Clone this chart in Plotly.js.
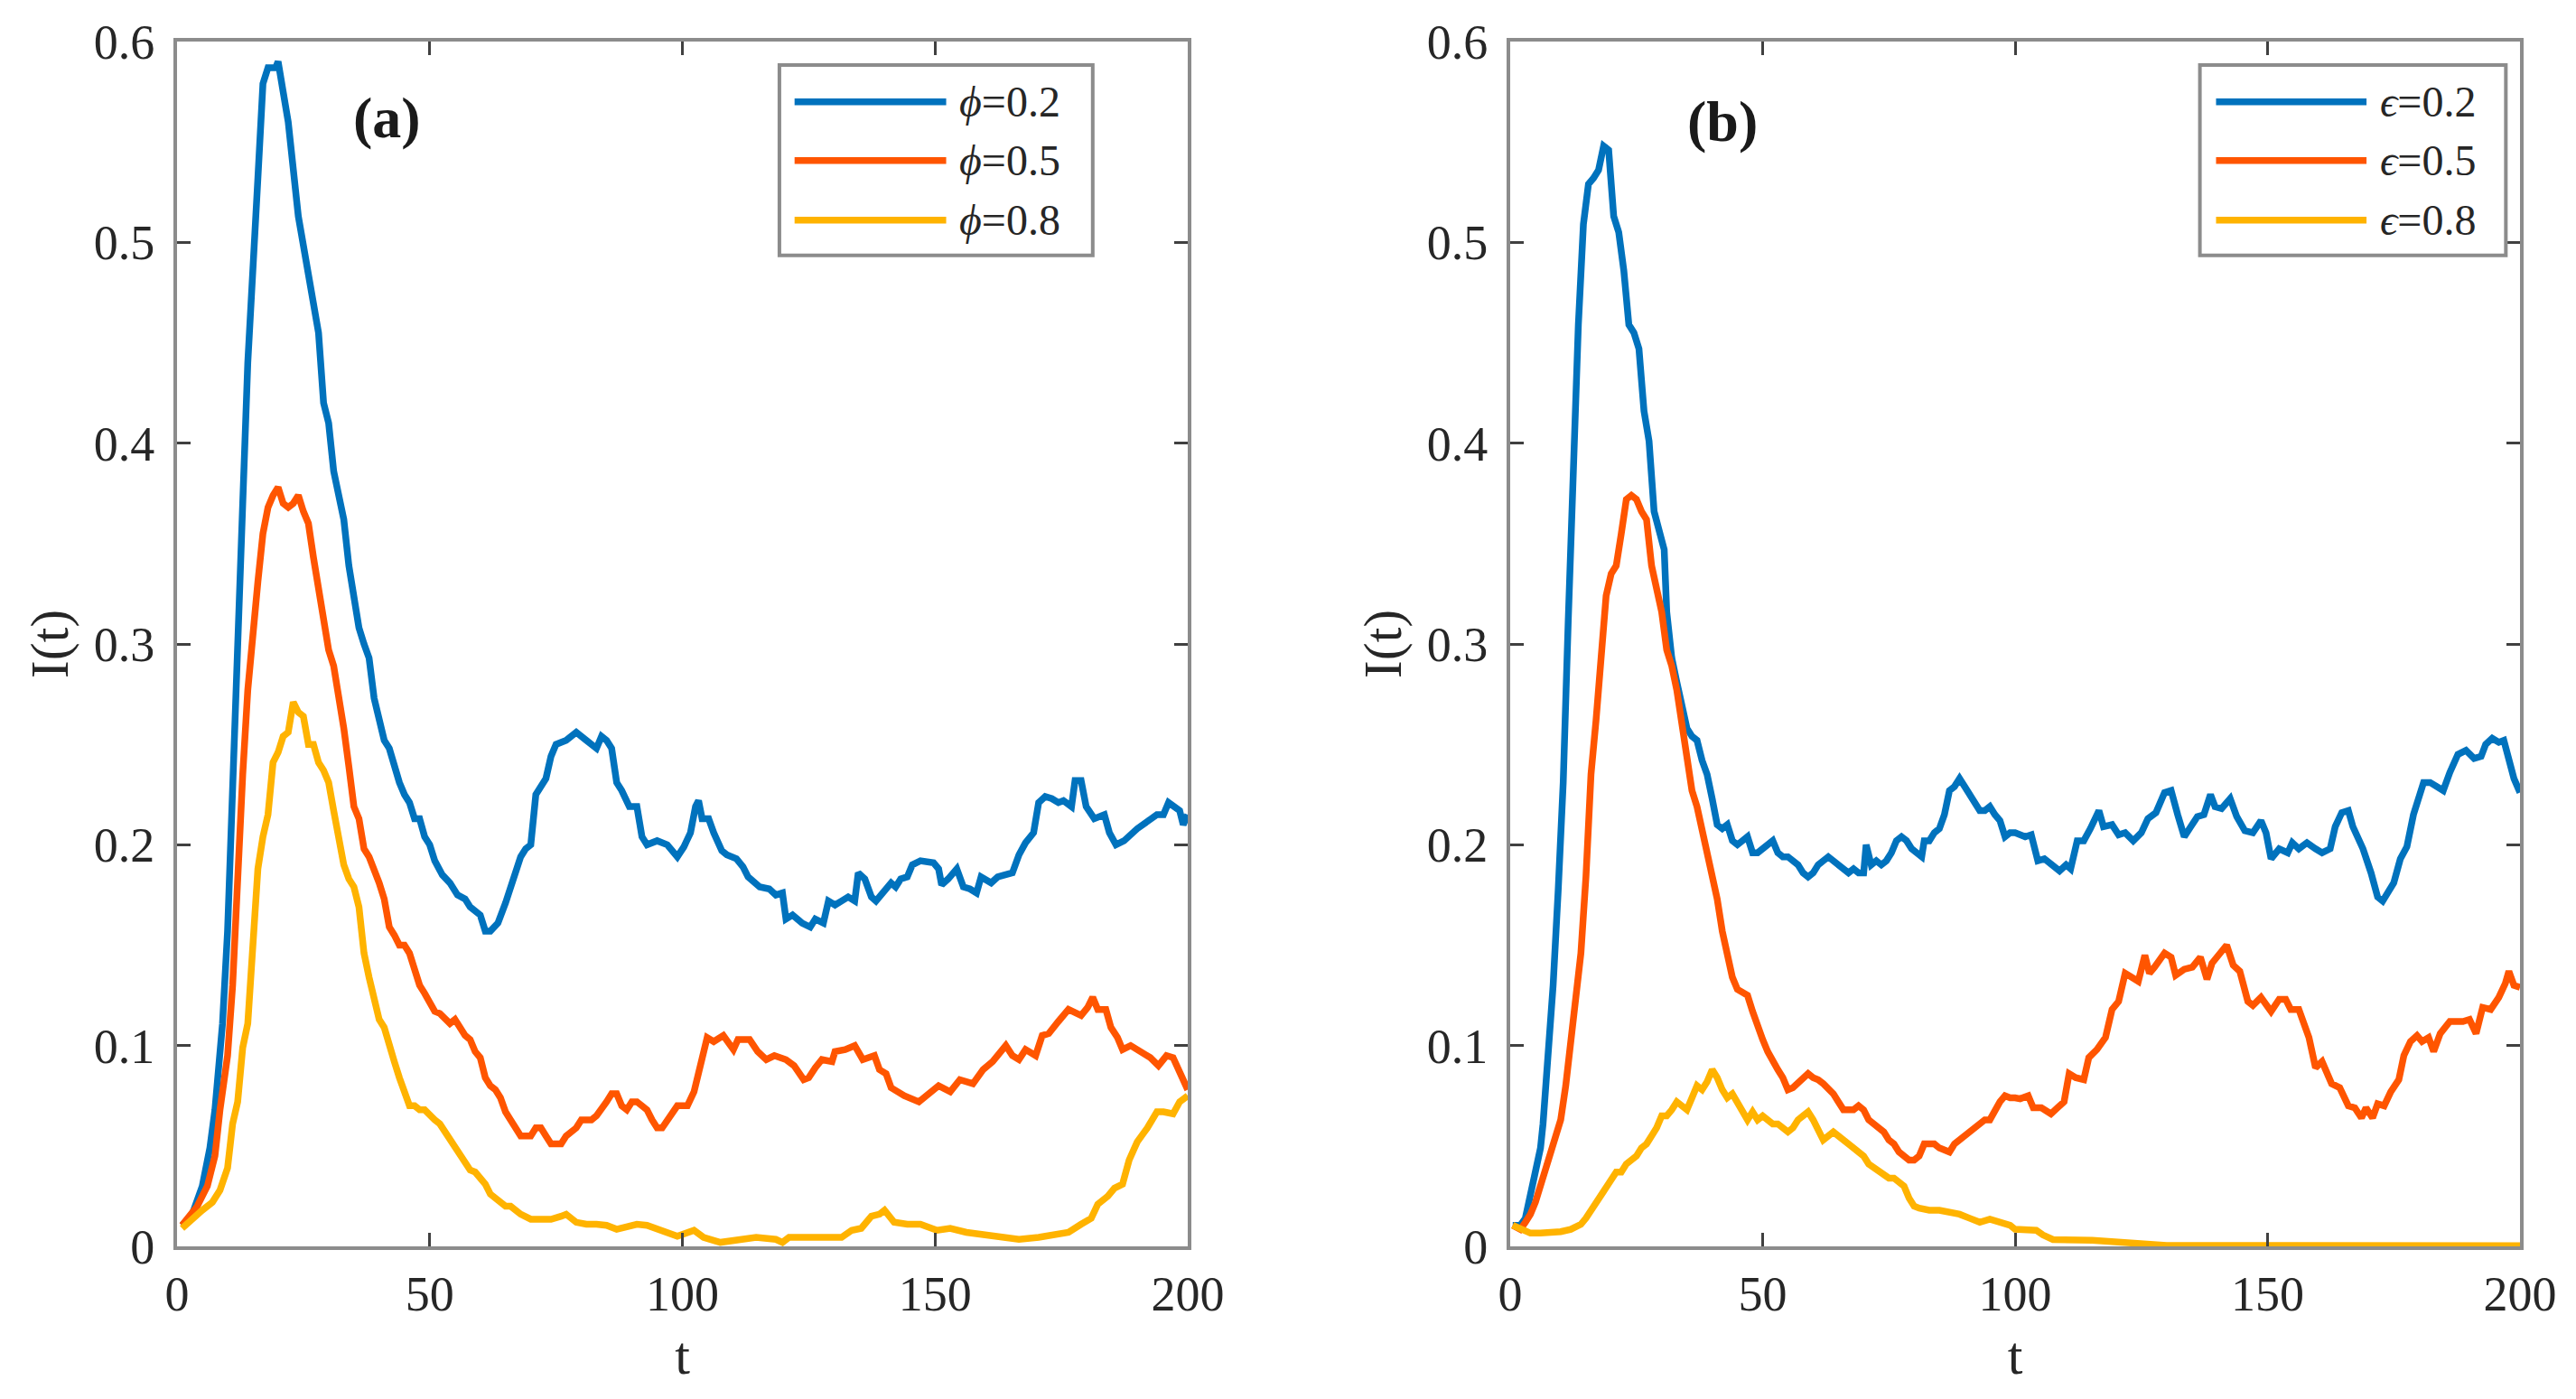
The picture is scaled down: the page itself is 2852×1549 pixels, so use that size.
<!DOCTYPE html>
<html>
<head>
<meta charset="utf-8">
<script src="https://cdn.plot.ly/plotly-3.0.1.min.js"></script>
<style>
  html, body { margin: 0; padding: 0; background: #fff; }
  #chart { width: 2852px; height: 1549px; }
</style>
</head>
<body>
<div id="chart"></div>
<script>
// (a) phi = 0.2
var tPhi02 = [1,3,5,6.5,7.5,9,10,11,12,13,14,15,16,17,18,19.5,20,21,22,24,26,28,29,30,31,32,33,34,35,36,37,38,39,40,41,42,43,44,45,46,47,48,49,50,51,52.5,54,55.5,57,58,60,61,62,63.5,65,66,67,68,69,70,71,72,73,74,75,77,79,81,83,84,85,86,87,88,89.5,91,92,93,95,97,99,
  100.3,101.6,102.6,103.2,103.9,105.2,106.2,107.8,108.8,110.7,112,113,115.3,117.2,118.5,119.8,120.5,121.8,123.7,125.3,126.3,127.9,128.9,130.2,131.5,132.8,134.1,134.8,136.1,137.4,138.3,139.6,141.3,142.2,143.2,144.5,145.5,147.1,149.7,150.7,151.3,152.6,154.3,155.6,156.9,158.2,159.1,161.1,162.4,165.3,166.6,167.9,169.5,170.5,171.8,173.1,174.4,175.4,177,177.7,178.9,179.9,181.5,183.5,184.5,185.8,187.4,190,192.6,193.9,195.2,196.2,198.4,199.1,200];
var iPhi02 = [0.0105,0.016,0.03,0.049,0.068,0.111,0.157,0.235,0.293,0.37,0.44,0.494,0.532,0.579,0.587,0.587,0.59,0.575,0.56,0.513,0.486,0.455,0.42,0.41,0.386,0.374,0.362,0.339,0.324,0.308,0.3,0.293,0.273,0.262,0.252,0.248,0.239,0.231,0.225,0.221,0.213,0.213,0.204,0.2,0.192,0.185,0.181,0.175,0.173,0.169,0.165,0.157,0.157,0.161,0.171,0.179,0.185,0.194,0.198,0.2,0.225,0.229,0.233,0.244,0.25,0.252,0.256,0.252,0.248,0.254,0.252,0.248,0.231,0.227,0.219,0.219,0.204,0.2,0.202,0.2,0.194,
  0.199,0.206,0.219,0.222,0.213,0.213,0.206,0.197,0.195,0.193,0.189,0.184,0.179,0.178,0.175,0.176,0.163,0.165,0.161,0.159,0.163,0.161,0.172,0.17,0.172,0.174,0.172,0.186,0.183,0.174,0.172,0.176,0.181,0.179,0.183,0.184,0.19,0.192,0.191,0.188,0.18,0.183,0.188,0.179,0.178,0.176,0.184,0.181,0.184,0.186,0.195,0.201,0.206,0.221,0.224,0.223,0.221,0.222,0.219,0.232,0.232,0.219,0.213,0.215,0.206,0.2,0.202,0.208,0.213,0.215,0.215,0.221,0.217,0.21,0.215];

// (a) phi = 0.5
var tPhi05 = [1,4,6,7.5,8.5,10,11,12,13,14,15,16,17,18,19,20,21,22,23,24,25,26,27,28,29,30,31,32,33,34,35,36,37,38,39,40,41,42,43,44,45,46,47,48,49,50,51,52,53,54,55,56,57,58,59,60,61,62,63,64,65,66,67,68,69,70,71,72,73,74,75,76,77,78,79,80,81,82,83,84,85,86,87,88,89,90,91,92,93,94,95,96,97,98,99,100,
  101,102.3,103.6,104.9,106.2,108.1,110.1,111,113.3,114.9,116.6,118.2,120.5,122.1,124,125,126.3,127.6,129.6,130.2,132.2,134.1,135.7,138,139,140.3,141.3,142.6,143.9,146.8,148.4,150.7,153,154.9,157.5,159.5,161.4,164,165.3,166.6,167.9,169.9,171.2,172.5,174.4,176.4,178.9,180.2,181.2,182.2,183.8,184.8,186.1,187.1,188.7,190.6,192.6,194.2,195.8,197.1,198.4,200];
var iPhi05 = [0.0105,0.02,0.03,0.045,0.068,0.095,0.13,0.188,0.235,0.277,0.308,0.331,0.355,0.368,0.374,0.378,0.37,0.368,0.37,0.374,0.366,0.36,0.343,0.328,0.312,0.297,0.289,0.275,0.258,0.239,0.219,0.213,0.198,0.194,0.188,0.181,0.173,0.159,0.155,0.15,0.15,0.146,0.138,0.13,0.126,0.121,0.117,0.116,0.114,0.111,0.113,0.109,0.105,0.103,0.097,0.094,0.084,0.08,0.078,0.074,0.067,0.063,0.059,0.055,0.055,0.055,0.059,0.059,0.055,0.051,0.051,0.051,0.055,0.057,0.059,0.063,0.063,0.063,0.065,0.068,0.072,0.076,0.076,0.07,0.068,0.072,0.072,0.07,0.068,0.063,0.059,0.059,0.063,0.067,0.07,0.07,
  0.07,0.077,0.09,0.104,0.102,0.105,0.098,0.103,0.103,0.097,0.093,0.095,0.093,0.09,0.083,0.084,0.089,0.093,0.092,0.097,0.098,0.1,0.093,0.095,0.088,0.086,0.079,0.077,0.075,0.072,0.075,0.08,0.077,0.083,0.081,0.088,0.092,0.1,0.095,0.093,0.098,0.095,0.105,0.106,0.112,0.118,0.115,0.119,0.124,0.118,0.118,0.109,0.104,0.098,0.1,0.097,0.094,0.09,0.095,0.094,0.086,0.078];

// (a) phi = 0.8
var tPhi08 = [1,3,5,7,8.5,10,11,12,13,14,15,16,17,18,19,20,21,22,23,24,25,26,27,28,29,30,31,32,33,34,35,36,37,38,39,40,41,42,43,44,45,46,47,48,49,50,51,52,53,54,55,56,57,58,59,60,61,62,63,64,65,66,68,70,72,74,76,77,79,81,83,85,87,89,91,93,95,97,99,
  102.3,104.2,107.5,112,114.6,118.5,119.8,121.1,126.3,131.5,133.5,135.4,137.4,139,140,141.9,144.5,147.1,150.4,153,156.2,160.1,164,166.6,170.5,173.8,176.4,178.9,180.9,182.2,184.2,185.5,187.1,188.4,190,192,193.9,195.2,197.1,198.4,200];
var iPhi08 = [0.009,0.014,0.018,0.022,0.028,0.039,0.061,0.072,0.099,0.111,0.146,0.188,0.204,0.215,0.241,0.246,0.254,0.256,0.271,0.266,0.264,0.25,0.25,0.241,0.237,0.231,0.217,0.204,0.19,0.183,0.179,0.169,0.146,0.134,0.123,0.113,0.109,0.099,0.092,0.084,0.076,0.07,0.07,0.068,0.068,0.065,0.063,0.061,0.057,0.054,0.049,0.045,0.041,0.038,0.037,0.034,0.031,0.026,0.024,0.022,0.02,0.02,0.016,0.0135,0.0135,0.0135,0.015,0.016,0.012,0.011,0.011,0.0105,0.0085,0.01,0.011,0.0105,0.0085,0.007,0.005,
  0.008,0.0045,0.002,0.0035,0.0045,0.0035,0.002,0.0045,0.0045,0.0045,0.008,0.009,0.015,0.016,0.018,0.012,0.011,0.011,0.008,0.009,0.007,0.006,0.0045,0.0035,0.0045,0.006,0.007,0.011,0.014,0.021,0.025,0.029,0.031,0.043,0.052,0.059,0.067,0.067,0.066,0.072,0.075];

// (b) epsilon = 0.2
var tEps02 = [0.5,2,3,4,5,6,6.5,7.5,8.5,9.5,10.5,11.5,12.5,13.5,14.5,15.5,16.5,17.5,18.5,19.5,20.5,21.5,22.5,23.5,24.5,25.5,26.5,27.5,28.5,29.5,30.5,31,32,33,34,35,36,37,38,39,40,41,42,43,44,45,46,47,48,49,50,51,52,53,54,55,56,57,58,59,60,61,62,63,64,65,66,67,68,69,70,70.5,71.5,72.5,73.5,74.5,75.5,76.5,77.5,78.5,79.5,80.5,81.5,82,83,84,85,86,87,88,89,90,91,92,93,94,95,96,97,98,99,100,
  102,103.2,104.5,105.8,107.5,108.8,110.1,111,112.3,113.6,114.9,116.6,117.5,119.2,120.5,121.8,123.4,125,126.3,127.9,129.6,130.9,132.2,133.5,134.8,136.1,137.4,138.7,139.6,140.9,142.6,143.9,145.5,147.1,148.7,149.7,150.7,152.3,154,154.9,156.2,157.8,159.5,160.8,162.4,163.4,164.7,166,166.9,168.9,170.5,171.8,172.8,173.7,175,176.3,177.6,178.9,180.9,182.2,183.8,184.8,186.1,187.7,189.3,190.9,192.3,193.2,194.5,195.8,196.8,197.8,198.8,200];
var iEps02 = [0.0105,0.0105,0.014,0.026,0.038,0.049,0.061,0.092,0.13,0.177,0.231,0.312,0.397,0.459,0.509,0.529,0.532,0.536,0.548,0.546,0.513,0.505,0.486,0.459,0.455,0.447,0.416,0.401,0.366,0.355,0.347,0.316,0.293,0.281,0.27,0.258,0.254,0.252,0.242,0.235,0.223,0.21,0.208,0.21,0.202,0.2,0.202,0.204,0.196,0.196,0.198,0.2,0.202,0.196,0.194,0.194,0.192,0.19,0.186,0.184,0.186,0.19,0.192,0.194,0.192,0.19,0.188,0.186,0.188,0.186,0.186,0.2,0.19,0.192,0.19,0.192,0.196,0.202,0.204,0.202,0.198,0.196,0.194,0.202,0.202,0.206,0.208,0.215,0.227,0.229,0.233,0.229,0.225,0.221,0.217,0.217,0.219,0.215,0.212,0.204,0.206,0.206,
  0.204,0.205,0.192,0.193,0.189,0.187,0.19,0.188,0.202,0.202,0.208,0.217,0.209,0.21,0.205,0.206,0.202,0.206,0.213,0.216,0.226,0.227,0.215,0.204,0.209,0.214,0.215,0.225,0.219,0.218,0.223,0.214,0.207,0.206,0.212,0.206,0.193,0.198,0.196,0.201,0.198,0.201,0.198,0.196,0.198,0.209,0.216,0.217,0.209,0.198,0.186,0.174,0.172,0.176,0.181,0.193,0.199,0.215,0.231,0.231,0.229,0.227,0.236,0.245,0.247,0.243,0.244,0.25,0.253,0.251,0.252,0.242,0.233,0.226];

// (b) epsilon = 0.5
var tEps05 = [0.5,2,3,4,5,6,7,8,9,10,11,12,13,14,15,16,17,18,19,20,21,22,23,24,25,26,27,28,29,30,31,32,33,34,35,36,37,38,39,40,41,42,43,44,45,46,47,48,49,50,51,52,53,54,55,56,57,58,59,60,61,62,63,64,65,66,67,68,69,70,71,72,73,74,75,76,77,78,79,80,81,82,83,84,85,86,87,88,89,90,91,92,93,94,95,96,97,98,99,100,
  101,102.6,103.6,105.2,107.1,108.4,109.7,110.7,112,113.6,114.6,116.2,117.9,119.2,120.5,121.8,123.4,124.4,125.7,126.6,127.6,129.6,130.9,131.8,133.5,135.1,136.7,138,139,140.6,141.9,143.2,144.5,146.1,147.1,148.7,150.7,152.3,153.6,154.6,156.2,158.2,159.5,160.8,162.7,164.3,166,167.3,168.6,169.5,170.8,171.8,173.1,174.4,176,177,178.3,179.6,180.6,181.9,182.9,184.2,186.1,188.7,190,191.3,192.6,194.2,195.8,197.1,197.8,198.8,200];
var iEps05 = [0.0105,0.0085,0.012,0.016,0.022,0.03,0.037,0.045,0.053,0.063,0.08,0.103,0.126,0.146,0.184,0.235,0.262,0.293,0.324,0.335,0.339,0.355,0.372,0.374,0.372,0.366,0.362,0.339,0.328,0.316,0.297,0.289,0.277,0.262,0.246,0.227,0.219,0.208,0.198,0.186,0.173,0.157,0.146,0.134,0.128,0.126,0.125,0.117,0.109,0.103,0.097,0.092,0.088,0.084,0.078,0.079,0.081,0.084,0.086,0.084,0.083,0.081,0.079,0.076,0.072,0.068,0.068,0.068,0.07,0.068,0.063,0.061,0.059,0.057,0.053,0.051,0.047,0.045,0.043,0.043,0.045,0.051,0.051,0.051,0.049,0.048,0.047,0.051,0.053,0.055,0.056,0.059,0.061,0.063,0.063,0.068,0.072,0.075,0.074,0.074,
  0.0735,0.075,0.069,0.069,0.066,0.069,0.072,0.086,0.084,0.083,0.094,0.098,0.104,0.118,0.122,0.136,0.133,0.132,0.145,0.136,0.139,0.146,0.144,0.135,0.138,0.139,0.144,0.133,0.141,0.146,0.15,0.14,0.137,0.122,0.12,0.124,0.117,0.123,0.123,0.118,0.118,0.104,0.089,0.092,0.081,0.079,0.07,0.069,0.064,0.069,0.064,0.071,0.07,0.077,0.083,0.095,0.102,0.105,0.102,0.104,0.097,0.106,0.112,0.112,0.113,0.106,0.119,0.118,0.124,0.131,0.137,0.13,0.129];

// (b) epsilon = 0.8
var tEps08 = [0.5,2,4,6,8,10,12,13,14,15,16,17,18,19,20,21,22,23,24,25,26,27,28,29,30,31,32,33,34,35,36,37,38,39,40,41,42,43,44,45,46,47,48,49,50,51,52,53,54,55,56,57,58,59,60,61,62,63,64,65,66,67,68,69,70,71,72,73,74,75,76,77,78,79,80,81,83,85,87,89,91,93,95,97,99,100,
  101.6,104.2,105.5,107.5,115.3,121.8,130,200];
var iEps08 = [0.0105,0.0085,0.0066,0.0066,0.0066,0.0073,0.0085,0.0097,0.011,0.014,0.018,0.022,0.026,0.03,0.034,0.037,0.037,0.041,0.043,0.045,0.049,0.051,0.055,0.059,0.065,0.065,0.068,0.072,0.07,0.068,0.074,0.08,0.078,0.082,0.088,0.084,0.078,0.074,0.076,0.072,0.068,0.063,0.067,0.063,0.065,0.063,0.061,0.061,0.059,0.057,0.059,0.063,0.065,0.067,0.063,0.057,0.053,0.055,0.057,0.055,0.053,0.051,0.049,0.047,0.045,0.041,0.039,0.037,0.036,0.034,0.034,0.032,0.03,0.024,0.02,0.019,0.018,0.018,0.017,0.016,0.014,0.012,0.0135,0.012,0.0105,0.0085,
  0.008,0.008,0.0057,0.0034,0.003,0.0016,0.0005,0.0003];

var colors = ['#0072BD', '#FF5500', '#FFB300'];
var phiLabels = ['0.2', '0.5', '0.8'];
var epsLabels = ['0.2', '0.5', '0.8'];

function line(t, v, c, xa, ya) {
  return { type: 'scatter', mode: 'lines', x: t, y: v, xaxis: xa, yaxis: ya,
    line: { color: c, width: 7.5 }, showlegend: false, hoverinfo: 'skip' };
}

var data = [
  line(tPhi02, iPhi02, colors[0], 'x', 'y'),
  line(tPhi05, iPhi05, colors[1], 'x', 'y'),
  line(tPhi08, iPhi08, colors[2], 'x', 'y'),
  line(tEps02, iEps02, colors[0], 'x2', 'y2'),
  line(tEps05, iEps05, colors[1], 'x2', 'y2'),
  line(tEps08, iEps08, colors[2], 'x2', 'y2')
];

var fontFam = 'Liberation Serif';

function xAxis(domain, anchor) {
  return {
    domain: domain, anchor: anchor, range: [0, 200], tick0: 0, dtick: 50,
    ticks: 'inside', ticklen: 15, tickwidth: 3, tickcolor: '#404040',
    showline: true, linecolor: '#8c8c8c', linewidth: 4, mirror: 'ticks',
    showgrid: false, zeroline: false, automargin: false,
    tickfont: { family: fontFam, size: 54, color: '#262626' }, ticklabelstandoff: 2,
    title: { text: 't', font: { family: fontFam, size: 60, color: '#262626' }, standoff: 18 }
  };
}
function yAxis(anchor) {
  return {
    domain: [0, 1], anchor: anchor, range: [0, 0.6], tick0: 0, dtick: 0.1,
    ticks: 'inside', ticklen: 15, tickwidth: 3, tickcolor: '#404040',
    showline: true, linecolor: '#8c8c8c', linewidth: 4, mirror: 'ticks',
    showgrid: false, zeroline: false, automargin: false,
    tickfont: { family: fontFam, size: 54, color: '#262626' }, ticklabelstandoff: 10,
    title: { text: 'I(t)', font: { family: fontFam, size: 60, color: '#262626' }, standoff: 10 }
  };
}

// hand-drawn legend boxes (MATLAB style, long line samples)
var shapes = [];
var annotations = [];
function legend(xr, yr, box, lineX, textX, rows, sym, labels) {
  shapes.push({ type: 'rect', xref: xr, yref: yr, x0: box[0], x1: box[1], y0: box[2], y1: box[3],
    line: { color: '#8c8c8c', width: 4 }, fillcolor: '#ffffff', layer: 'above' });
  for (var k = 0; k < 3; k++) {
    shapes.push({ type: 'line', xref: xr, yref: yr, x0: lineX[0], x1: lineX[1], y0: rows[k], y1: rows[k],
      line: { color: colors[k], width: 7.5 }, layer: 'above' });
    annotations.push({ xref: xr, yref: yr, x: textX, y: rows[k], xanchor: 'left', yanchor: 'middle',
      showarrow: false, text: '<i>' + sym + '</i>=' + labels[k],
      font: { family: fontFam, size: 48, color: '#262626' } });
  }
}
legend('x domain', 'y domain', [0.596, 0.906, 0.8226, 0.9805], [0.611, 0.761], 0.772,
  [0.9499, 0.9012, 0.8518], '\u03D5', phiLabels);
legend('x2 domain', 'y2 domain', [0.683, 0.986, 0.8226, 0.9805], [0.699, 0.848], 0.86,
  [0.9499, 0.9012, 0.8518], '\u03F5', epsLabels);

annotations.push({ xref: 'x', yref: 'y', x: 41.6, y: 0.562, text: '<b>(a)</b>', showarrow: false,
  font: { family: fontFam, size: 64, color: '#1a1a1a' } });
annotations.push({ xref: 'x2', yref: 'y2', x: 42, y: 0.56, text: '<b>(b)</b>', showarrow: false,
  font: { family: fontFam, size: 64, color: '#1a1a1a' } });

var layout = {
  width: 2852, height: 1549,
  margin: { l: 196, r: 62, t: 46, b: 169 },
  paper_bgcolor: '#ffffff', plot_bgcolor: '#ffffff',
  font: { family: fontFam, color: '#262626' },
  showlegend: false,
  xaxis: xAxis([0, 0.43138], 'y'),
  yaxis: yAxis('x'),
  xaxis2: xAxis([0.56901, 1], 'y2'),
  yaxis2: yAxis('x2'),
  shapes: shapes,
  annotations: annotations
};

Plotly.newPlot('chart', data, layout, { staticPlot: true, displaylogo: false });
</script>
</body>
</html>
